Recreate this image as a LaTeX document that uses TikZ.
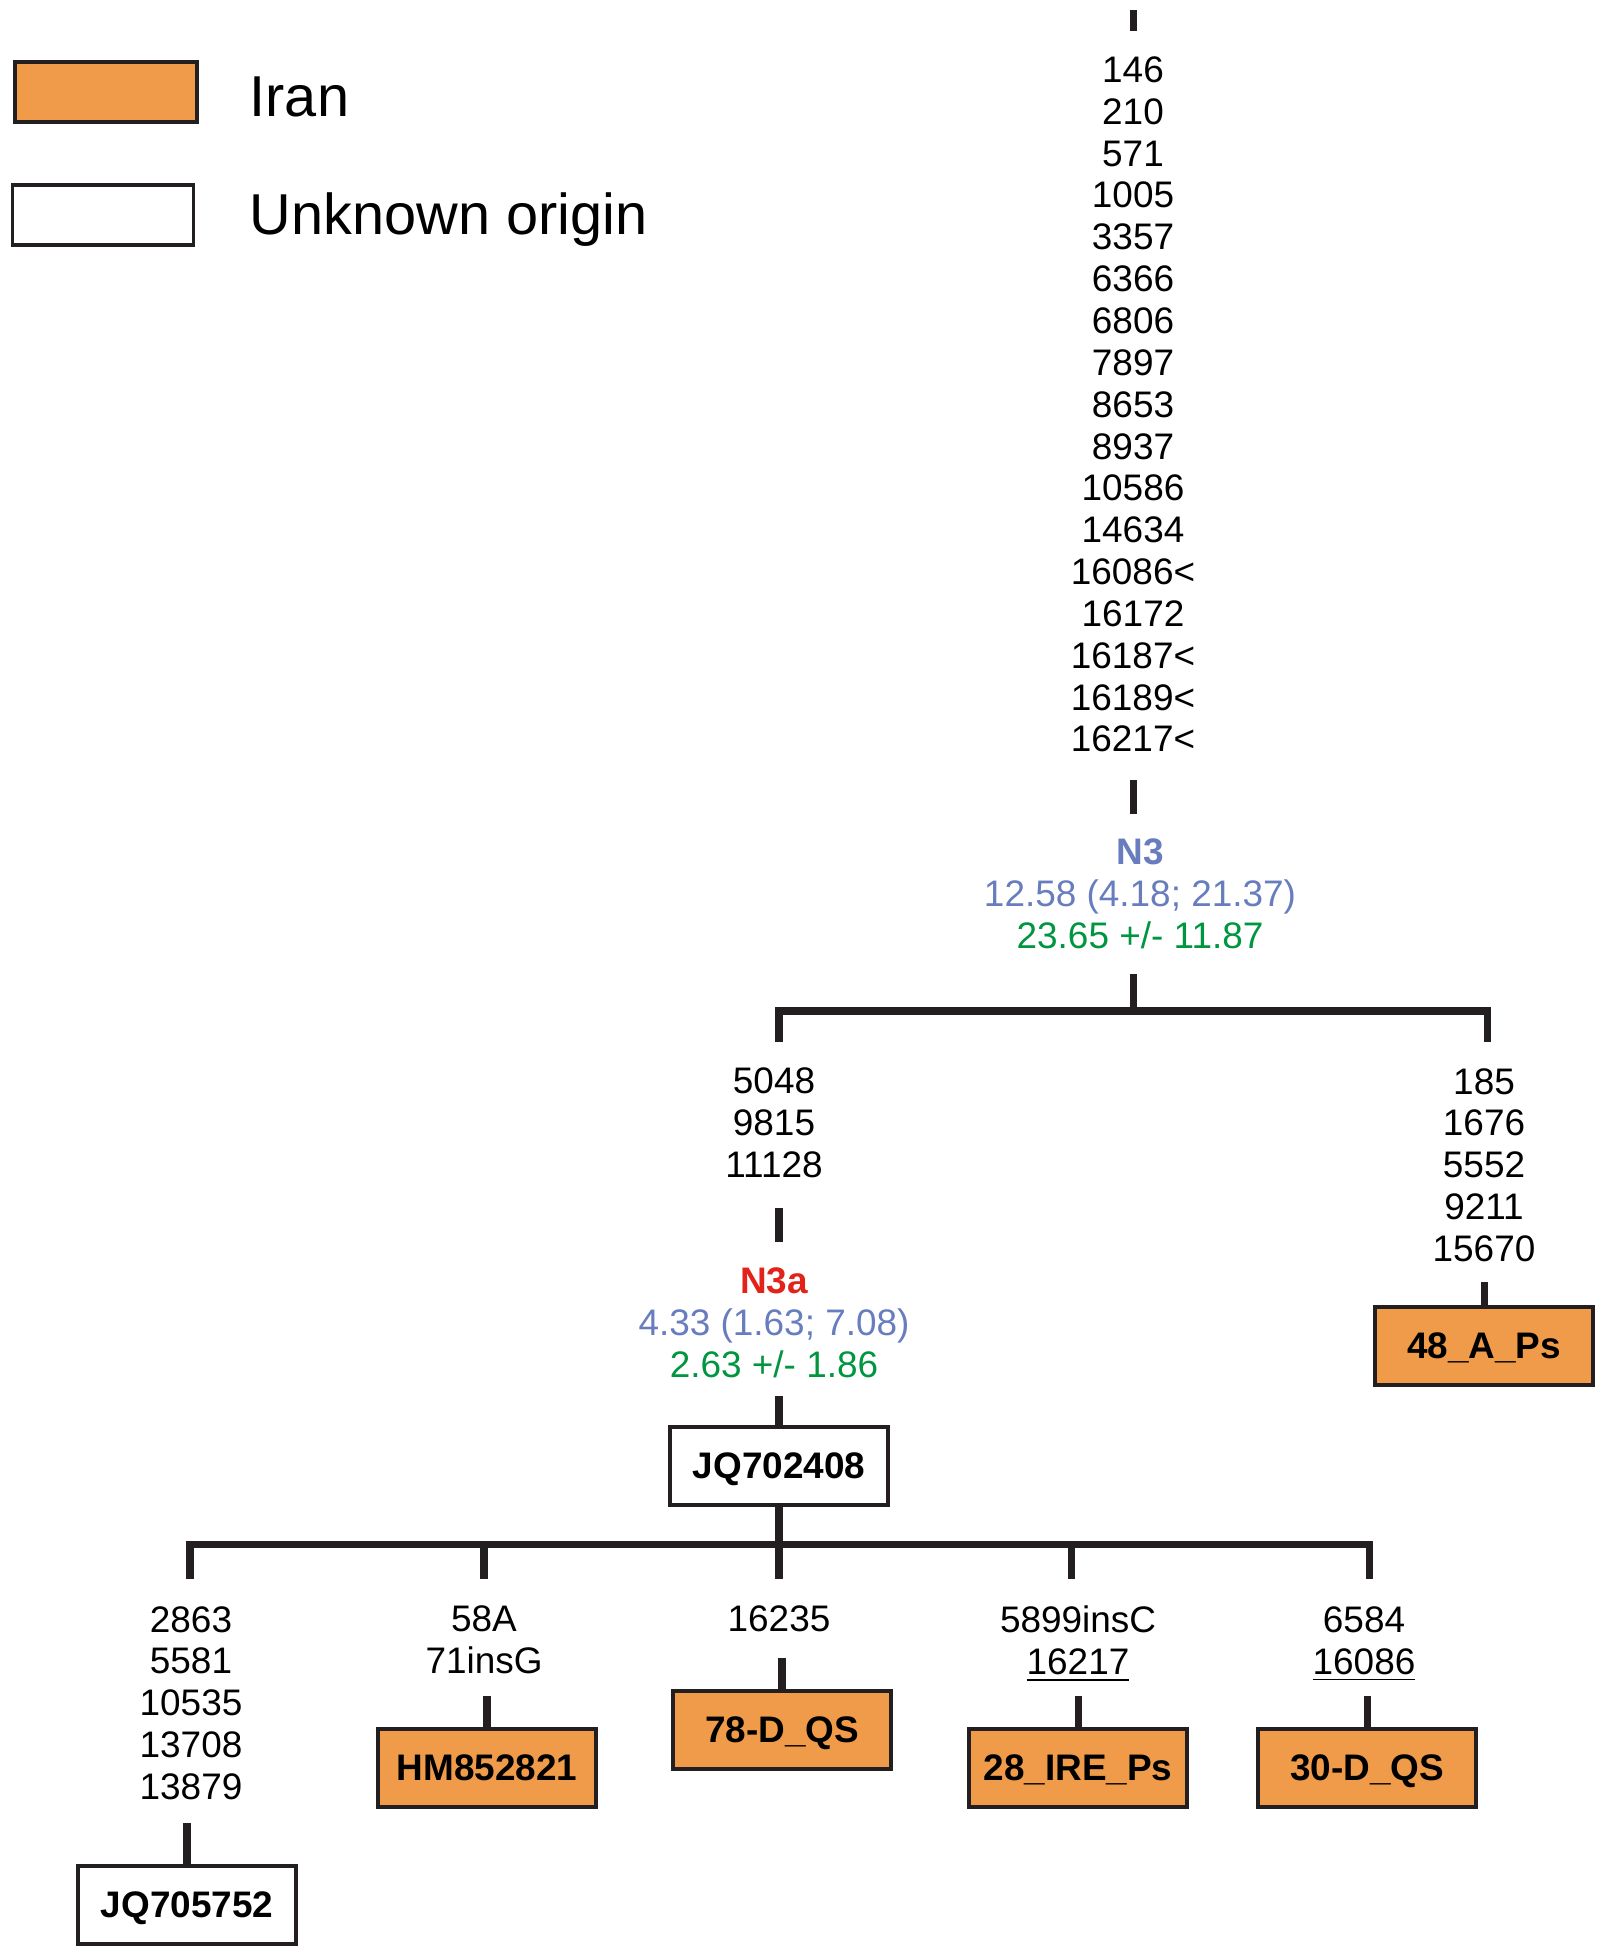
\documentclass[tikz,border=0pt]{standalone}
\usepackage{fontspec}
\setmainfont{Liberation Sans}

\definecolor{iranorange}{RGB}{239,155,74}
\definecolor{ageblue}{RGB}{104,125,190}
\definecolor{rhogreen}{RGB}{0,150,64}
\definecolor{cladered}{RGB}{226,35,26}
\definecolor{treeblack}{RGB}{35,31,32}

\begin{document}
\begin{tikzpicture}[x=0.01cm,y=-0.01cm,
  mut/.style={align=center,inner sep=0pt,font=\fontsize{10.5}{11.9}\selectfont},
  hap/.style={draw=treeblack,line width=1.1pt,inner sep=0pt,minimum width=2.18cm,minimum height=0.78cm,text height=0.72em,text depth=0pt,font=\fontsize{10.5}{12}\selectfont\bfseries},
  iran/.style={hap,fill=iranorange},
  unknown/.style={hap,fill=white},
  key/.style={inner sep=0pt,font=\fontsize{16.4}{19}\selectfont},
  branch/.style={draw=treeblack,line width=2pt}]

\useasboundingbox (0,0) rectangle (1604,1958);

% legend
\node[iran,minimum width=1.82cm,minimum height=0.6cm] (keyiran) at (106,92) {};
\node[unknown,minimum width=1.81cm,minimum height=0.6cm] (keyunknown) at (103,215) {};
\node[key,anchor=base west] (txtiran) at (249,117) {Iran};
\node[key,anchor=base west] (txtunknown) at (249,235) {Unknown origin};

% N3 stem
\coordinate (root) at (1133,10);
\draw[branch] (root) -- ++(0,21);
\node[mut] (mutN3) at (1133,404.5) {146\\210\\571\\1005\\3357\\6366\\6806\\7897\\8653\\8937\\10586\\14634\\16086<\\16172\\16187<\\16189<\\16217<};
\coordinate (tickN3) at (1133,780);
\draw[branch] (tickN3) -- ++(0,34);
\node[mut] (N3) at (1140,894) {\textcolor{ageblue}{\bfseries N3}\\\textcolor{ageblue}{12.58 (4.18; 21.37)}\\\textcolor{rhogreen}{23.65 +/- 11.87}};

% N3 fork
\coordinate (forkN3) at (1133,1011);
\coordinate (leftcorner) at (779,1011);
\coordinate (rightcorner) at (1487,1011);
\coordinate (leftdrop) at (779,1042);
\coordinate (rightdrop) at (1487,1042);
\draw[branch] (forkN3) -- ++(0,-37);
\draw[branch] (leftdrop) -- (leftcorner) -- (rightcorner) -- (rightdrop);

% right branch
\node[mut] (mut48) at (1484,1165) {185\\1676\\5552\\9211\\15670};
\node[iran] (ps48) at (1484,1346) {48\_A\_Ps};
\draw[branch] (ps48.north) -- ++(0,-23);

% N3a
\node[mut] (mutN3a) at (774,1123) {5048\\9815\\11128};
\coordinate (tickN3a) at (779,1208);
\draw[branch] (tickN3a) -- ++(0,34);
\node[mut] (N3a) at (774,1323) {\textcolor{cladered}{\bfseries N3a}\\\textcolor{ageblue}{4.33 (1.63; 7.08)}\\\textcolor{rhogreen}{2.63 +/- 1.86}};
\node[unknown] (jq702408) at (779,1466) {JQ702408};
\draw[branch] (jq702408.north) -- ++(0,-29);

% N3a fork
\foreach \x [count=\i] in {190,484,779,1071,1369} {
  \coordinate (bar\i) at (\x,1544);
  \coordinate (drop\i) at (\x,1579);
}
\draw[branch] (jq702408.south) -- (bar3);
\draw[branch] (drop1) -- (bar1) -- (bar5) -- (drop5);
\foreach \i in {2,3,4}
  \draw[branch] (bar\i) -- (drop\i);

\node[mut] (mutjq705) at (191,1703) {2863\\5581\\10535\\13708\\13879};
\node[mut] (muthm) at (484,1640) {58A\\71insG};
\node[mut] (mut78) at (779,1619) {16235};
\node[mut] (mut28) at (1078,1644) {5899insC\\\underline{16217}};
\node[mut] (mut30) at (1364,1644) {6584\\\underline{16086}};

\node[unknown] (jq705752) at (187,1905) {JQ705752};
\node[iran] (hm852821) at (487,1768) {HM852821};
\node[iran] (qs78) at (782,1730) {78-D\_QS};
\node[iran] (ps28) at (1078,1768) {28\_IRE\_Ps};
\node[iran] (qs30) at (1367,1768) {30-D\_QS};

\draw[branch] (jq705752.north) -- ++(0,-41);
\draw[branch] (hm852821.north) -- ++(0,-31);
\draw[branch] (qs78.north) -- ++(0,-31);
\draw[branch] (ps28.north) -- ++(0,-31);
\draw[branch] (qs30.north) -- ++(0,-31);

\end{tikzpicture}
\end{document}
